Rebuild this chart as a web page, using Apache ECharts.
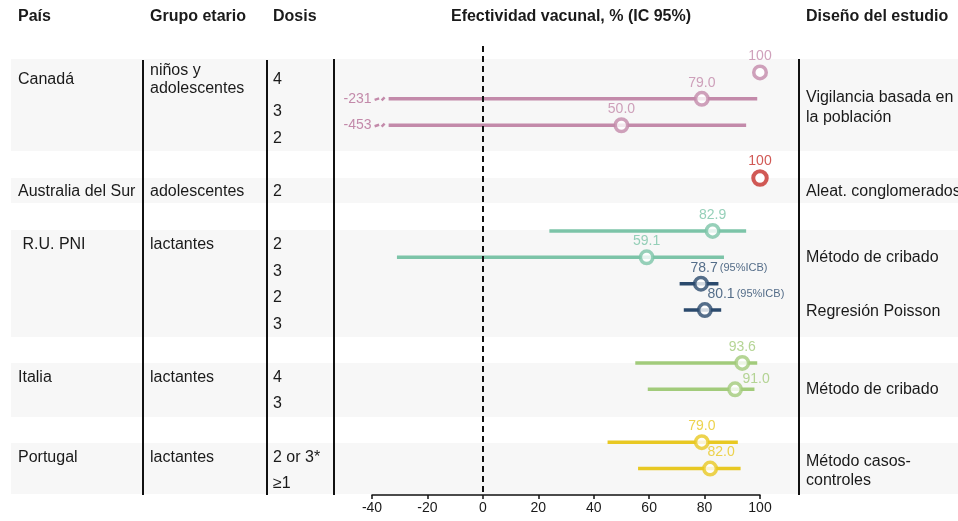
<!DOCTYPE html>
<html><head><meta charset="utf-8">
<script src="https://cdn.jsdelivr.net/npm/echarts@6/dist/echarts.min.js"></script>
<style>html,body{margin:0;padding:0;background:#fff}#c{width:958px;height:521px}</style>
</head><body><div id="c"></div>
<script>
// ---- data ----
const headers = ['País', 'Grupo etario', 'Dosis', 'Efectividad vacunal, % (IC 95%)', 'Diseño del estudio'];
const countries = ['Canadá', 'Australia del Sur', ' R.U. PNI', 'Italia', 'Portugal'];
const ageGroups = ['niños y\nadolescentes', 'adolescentes', 'lactantes', 'lactantes', 'lactantes'];
const doses = ['4', '3', '2', '2', '2', '3', '2', '3', '4', '3', '2 or 3*', '≥1'];
const designs = ['Vigilancia basada en\nla población', 'Aleat. conglomerados', 'Método de cribado', 'Regresión Poisson', 'Método de cribado', 'Método casos-\ncontroles'];
const xTicks = [-40, -20, 0, 20, 40, 60, 80, 100];

const estimates = [100, 79.0, 50.0, 100, 82.9, 59.1, 78.7, 80.1, 93.6, 91.0, 79.0, 82.0];
const lower     = [null, -231, -453, null, 24, -31, 71, 72.5, 55, 59.5, 45, 56];
const upper     = [null, 99, 95, null, 95, 87, 85, 86, 99, 98, 92, 93];
const estLabels = ['100', '79.0', '50.0', '100', '82.9', '59.1', '78.7', '80.1', '93.6', '91.0', '79.0', '82.0'];
const ciNote    = ['', '', '', '', '', '', '(95%ICB)', '(95%ICB)', '', '', '', ''];
const rowSlot   = [0, 1, 2, 4, 6, 7, 8, 9, 11, 12, 14, 15];
const groupOf   = [0, 0, 0, 1, 2, 2, 3, 3, 4, 4, 5, 5];

// ---- styling / layout ----
const FONT = '"Liberation Sans", Arial, Helvetica, sans-serif';
const TXT = '#1a1a1a';
const colors = ['#c38aaa', '#c62f2a', '#7cc4a8', '#2b4a6d', '#a2cb7b', '#e8c822'];
const CLIP = -34;
const labelOffsets = {6: [28, 0], 7: [41, 0], 9: [21, 6], 11: [11, 0]};

const graphic = [];
// row bands
[[59, 151], [178, 203], [230, 337], [363, 417], [443, 494]].forEach(b => {
  graphic.push({type: 'rect', z: -10, shape: {x: 11, y: b[0], width: 947, height: b[1] - b[0]}, style: {fill: '#f7f7f7'}});
});
// separators
[[143, 60, 495], [267, 60, 495], [334, 59, 495], [799, 59, 495]].forEach(l => {
  graphic.push({type: 'line', z: 5, shape: {x1: l[0], y1: l[1], x2: l[0], y2: l[2]}, style: {stroke: '#111', lineWidth: 2}});
});
function txt(text, x, y, opts) {
  graphic.push({type: 'text', z: 5, style: Object.assign({
    text, x, y, fill: TXT, fontSize: 16, fontFamily: FONT, verticalAlign: 'middle', align: 'left'
  }, opts || {})});
}
const headerX = [18, 150, 273, 571, 806];
headers.forEach((h, i) => txt(h, headerX[i], 17, {fontWeight: 'bold', align: i === 3 ? 'center' : 'left'}));
const countryY = [80, 192, 245, 378, 458];
countries.forEach((c, i) => txt(c, 18, countryY[i]));
ageGroups.forEach((g, i) => txt(g, 150, countryY[i], {lineHeight: 18}));
const doseY = [80, 112, 139, 192, 245, 272, 298, 325, 378, 404, 458, 484];
doses.forEach((d, i) => txt(d, 273, doseY[i]));
const designY = [107.5, 192, 258, 312, 390, 471];
designs.forEach((d, i) => txt(d, 806, designY[i], {lineHeight: 19.5}));

// CI data
const ciData = [];
estimates.forEach((e, i) => {
  if (lower[i] !== null) ciData.push({value: [lower[i], upper[i], rowSlot[i]], idx: i});
});

function renderCI(params, api) {
  const item = ciData[params.dataIndex];
  const i = item.idx;
  const col = colors[groupOf[i]];
  const lo = api.value(0), hi = api.value(1), slot = api.value(2);
  const p1 = api.coord([Math.max(lo, CLIP), slot]);
  const p2 = api.coord([hi, slot]);
  const children = [{type: 'line', shape: {x1: p1[0], y1: p1[1], x2: p2[0], y2: p2[1]},
    style: {stroke: col, lineWidth: 3.5}}];
  if (lo < CLIP) {
    const x = p1[0], y = p1[1];
    children.push({type: 'line', shape: {x1: x - 14, y1: y + 1, x2: x - 9.5, y2: y - 0.5}, style: {stroke: col, lineWidth: 2.5}});
    children.push({type: 'line', shape: {x1: x - 7, y1: y + 1.5, x2: x - 4, y2: y - 1.5}, style: {stroke: col, lineWidth: 2.5}});
    children.push({type: 'text', style: {text: String(lo), x: x - 17, y: y, align: 'right', verticalAlign: 'middle',
      fill: col, fontSize: 14, fontFamily: FONT}});
  }
  return {type: 'group', children};
}

const pointData = estimates.map((e, i) => {
  const col = colors[groupOf[i]];
  const off = labelOffsets[i] || [0, 0];
  const isRed = groupOf[i] === 1;
  return {
    value: [e, rowSlot[i]],
    symbolSize: isRed ? 13.5 : 12.5,
    itemStyle: {color: '#fff', borderColor: col, borderWidth: isRed ? 4 : 3.5},
    label: {
      show: true, position: 'top', distance: 1, offset: off,
      formatter: ciNote[i] ? '{a|' + estLabels[i] + '}{b|' + ciNote[i] + '}' : estLabels[i],
      color: col, fontSize: 14, fontFamily: FONT,
      rich: {a: {color: col, fontSize: 14, fontFamily: FONT}, b: {color: col, fontSize: 11, fontFamily: FONT, padding: [0, 0, 0, 2]}}
    }
  };
});

const chart = echarts.init(document.getElementById('c'), null, {renderer: 'canvas'});
chart.setOption({
  animation: false,
  backgroundColor: '#fff',
  textStyle: {fontFamily: FONT},
  grid: {left: 372, right: 198, top: 46, bottom: 26},
  xAxis: {
    type: 'value', min: xTicks[0], max: xTicks[xTicks.length - 1], interval: 20,
    axisLine: {show: true, onZero: false, lineStyle: {color: '#111', width: 1.5}},
    axisTick: {show: true, length: 4, lineStyle: {color: '#111', width: 1.5}},
    axisLabel: {color: TXT, fontSize: 14, margin: 6, fontFamily: FONT},
    splitLine: {show: false}
  },
  yAxis: {type: 'value', min: -1, max: 16, inverse: true, show: false, splitLine: {show: false}},
  graphic: graphic,
  series: [
    {type: 'custom', renderItem: renderCI, data: ciData, encode: {x: [0, 1], y: 2}, clip: false, z: 2, silent: true},
    {type: 'scatter', data: pointData, symbol: 'circle', z: 4, silent: true},
    {type: 'scatter', data: [], z: 6, silent: true,
      markLine: {silent: true, symbol: 'none', label: {show: false},
        lineStyle: {color: '#111', width: 2, type: [6, 4]}, data: [{xAxis: 0}]}}
  ]
});
</script>
</body></html>
